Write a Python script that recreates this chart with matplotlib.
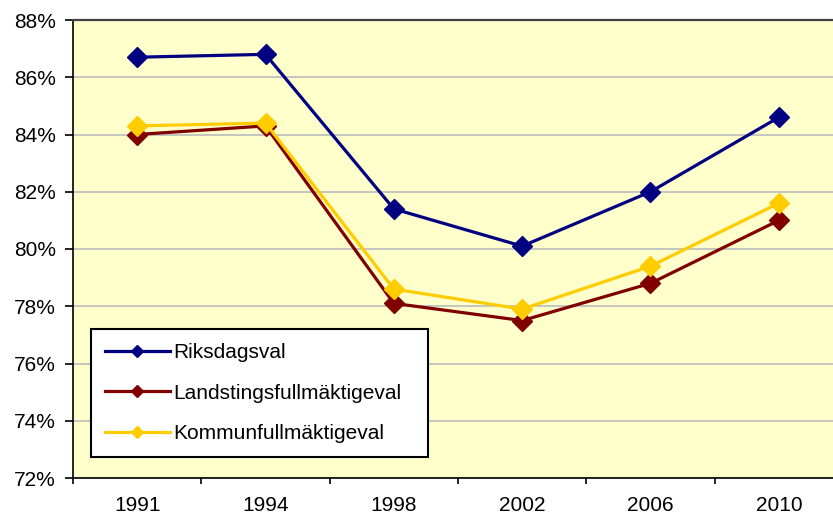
import numpy as np
import matplotlib
matplotlib.use("Agg")
import matplotlib.pyplot as plt
from matplotlib.ticker import FixedLocator, FuncFormatter

plt.rcParams["font.family"] = ["Liberation Sans", "DejaVu Sans"]

# ---- data (turnout, %) ----
years = ["1991", "1994", "1998", "2002", "2006", "2010"]
riksdag = [86.7, 86.8, 81.4, 80.1, 82.0, 84.6]
landsting = [84.0, 84.3, 78.1, 77.5, 78.8, 81.0]
kommun = [84.3, 84.4, 78.6, 77.9, 79.4, 81.6]
series_names = ["Riksdagsval", "Landstingsfullmäktigeval", "Kommunfullmäktigeval"]
series_colors = ["#000080", "#800000", "#FFCC00"]

W, H = 833, 517
fig = plt.figure(figsize=(W / 100, H / 100), dpi=100)
fig.patch.set_facecolor("white")

# plot area runs past the right edge of the picture, as in the reference
left, right, top, bottom = 73, 843, 20, 478
ax = fig.add_axes([left / W, 1 - bottom / H, (right - left) / W, (bottom - top) / H])
ax.set_facecolor("#FFFFCC")

x = np.arange(len(years))
for vals, name, col in zip([riksdag, landsting, kommun], series_names, series_colors):
    ax.plot(x, vals, color=col, lw=2.3, marker="D", markersize=10.5,
            markeredgecolor=col, label=name, zorder=3)

ax.set_xlim(-0.5, len(years) - 0.5)
ax.set_ylim(72, 88)

# y axis
ax.set_yticks(np.arange(72, 89, 2))
ax.yaxis.set_major_formatter(FuncFormatter(lambda v, p: f"{v:.0f}%"))
ax.yaxis.grid(True, color="#C0C0C0", lw=1.3)
ax.set_axisbelow(True)
ax.tick_params(axis="y", direction="out", length=5.5, width=1.2, pad=7,
               labelsize=15, colors="black")

# x axis: ticks between categories, labels at centers
ax.xaxis.set_major_locator(FixedLocator(np.arange(-0.5, len(years), 1.0)))
ax.xaxis.set_major_formatter(FuncFormatter(lambda v, p: ""))
ax.xaxis.set_minor_locator(FixedLocator(x))
ax.set_xticklabels(years, minor=True)
ax.tick_params(axis="x", which="major", direction="out", length=4.5, width=1.2)
ax.tick_params(axis="x", which="minor", length=0, pad=13, labelsize=15)

for s in ["left", "bottom"]:
    ax.spines[s].set_color("black")
    ax.spines[s].set_linewidth(1.2)
ax.spines["top"].set_color("#404040")
ax.spines["top"].set_linewidth(1.6)
ax.spines["right"].set_visible(False)

aw, ah = right - left, bottom - top
leg = ax.legend(loc="lower left",
                bbox_to_anchor=((91 - left) / aw, (bottom - 457) / ah,
                                (428 - 91) / aw, (457 - 329) / ah),
                mode="expand", borderaxespad=0, fontsize=15, frameon=True,
                fancybox=False, edgecolor="black", facecolor="white",
                framealpha=1, handlelength=3.1, handletextpad=0.15,
                labelspacing=1.02, borderpad=0.68, markerscale=0.6)
leg.get_frame().set_linewidth(1.5)

fig.savefig("out.png", dpi=100)
